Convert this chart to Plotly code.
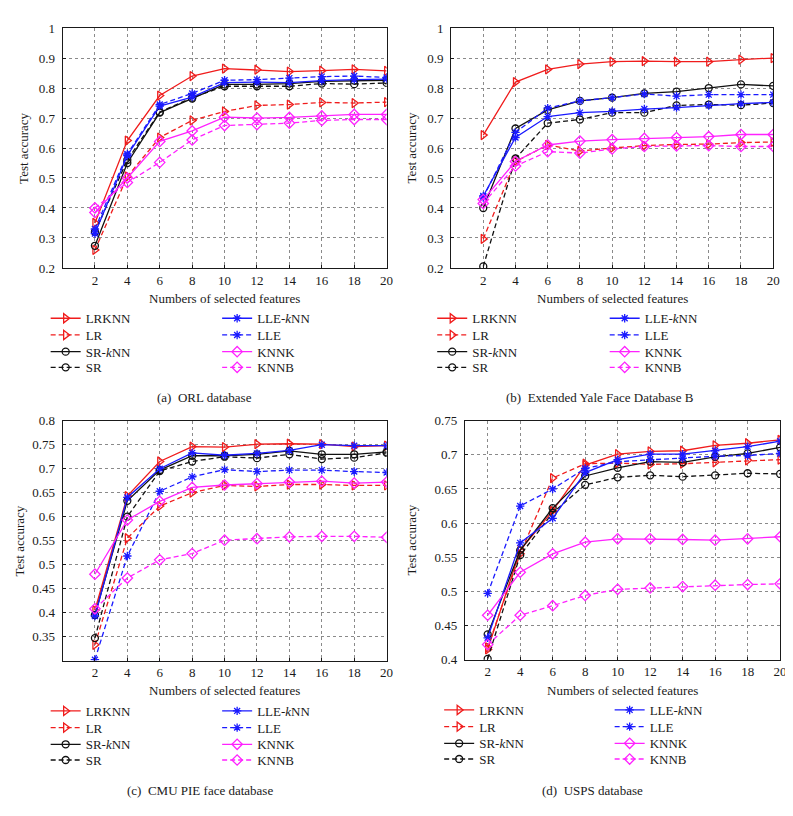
import plotly.graph_objects as go

# ---------------- data ----------------
features = [2, 4, 6, 8, 10, 12, 14, 16, 18, 20]
method_names = ["LRKNN", "LR", "SR-<i>k</i>NN", "SR", "LLE-<i>k</i>NN", "LLE", "KNNK", "KNNB"]

# (a) ORL database
orl_lrknn = [0.350, 0.625, 0.775, 0.840, 0.865, 0.861, 0.855, 0.858, 0.862, 0.857]
orl_lr    = [0.260, 0.505, 0.635, 0.692, 0.722, 0.742, 0.745, 0.752, 0.750, 0.753]
orl_srknn = [0.274, 0.550, 0.718, 0.765, 0.812, 0.812, 0.815, 0.822, 0.825, 0.826]
orl_sr    = [0.320, 0.560, 0.720, 0.768, 0.806, 0.806, 0.806, 0.815, 0.813, 0.817]
orl_lleknn = [0.315, 0.575, 0.740, 0.770, 0.818, 0.820, 0.818, 0.825, 0.828, 0.830]
orl_lle   = [0.330, 0.580, 0.745, 0.782, 0.826, 0.828, 0.833, 0.838, 0.840, 0.835]
orl_knnk  = [0.385, 0.500, 0.622, 0.657, 0.703, 0.700, 0.702, 0.707, 0.712, 0.712]
orl_knnb  = [0.400, 0.485, 0.552, 0.627, 0.675, 0.678, 0.683, 0.692, 0.695, 0.695]

# (b) Extended Yale Face Database B
yale_lrknn = [0.643, 0.820, 0.862, 0.880, 0.888, 0.890, 0.888, 0.888, 0.895, 0.900]
yale_lr    = [0.297, 0.555, 0.610, 0.590, 0.600, 0.608, 0.612, 0.613, 0.618, 0.620]
yale_srknn = [0.400, 0.665, 0.727, 0.757, 0.768, 0.782, 0.788, 0.800, 0.812, 0.807]
yale_sr    = [0.205, 0.565, 0.683, 0.695, 0.718, 0.718, 0.742, 0.745, 0.743, 0.750]
yale_lleknn = [0.440, 0.635, 0.705, 0.718, 0.722, 0.730, 0.735, 0.742, 0.748, 0.752]
yale_lle   = [0.435, 0.652, 0.733, 0.757, 0.768, 0.780, 0.773, 0.778, 0.778, 0.778]
yale_knnk  = [0.428, 0.555, 0.610, 0.623, 0.628, 0.632, 0.635, 0.638, 0.645, 0.645]
yale_knnb  = [0.415, 0.540, 0.588, 0.583, 0.597, 0.605, 0.607, 0.608, 0.605, 0.605]

# (c) CMU PIE face database
pie_lrknn = [0.405, 0.643, 0.715, 0.746, 0.745, 0.751, 0.752, 0.751, 0.746, 0.748]
pie_lr    = [0.333, 0.555, 0.622, 0.650, 0.665, 0.663, 0.667, 0.667, 0.665, 0.665]
pie_srknn = [0.395, 0.633, 0.697, 0.727, 0.727, 0.730, 0.737, 0.730, 0.730, 0.735]
pie_sr    = [0.347, 0.600, 0.695, 0.715, 0.725, 0.722, 0.730, 0.720, 0.723, 0.733]
pie_lleknn = [0.393, 0.640, 0.700, 0.733, 0.728, 0.732, 0.738, 0.750, 0.748, 0.748]
pie_lle   = [0.302, 0.518, 0.653, 0.683, 0.698, 0.694, 0.697, 0.697, 0.694, 0.692]
pie_knnk  = [0.480, 0.593, 0.632, 0.661, 0.666, 0.669, 0.672, 0.674, 0.670, 0.672]
pie_knnb  = [0.408, 0.472, 0.510, 0.523, 0.551, 0.554, 0.558, 0.559, 0.559, 0.557]

# (d) USPS database
usps_lrknn = [0.415, 0.560, 0.618, 0.685, 0.701, 0.705, 0.706, 0.714, 0.717, 0.722]
usps_lr    = [0.418, 0.555, 0.666, 0.687, 0.688, 0.686, 0.687, 0.689, 0.692, 0.693]
usps_srknn = [0.437, 0.560, 0.622, 0.669, 0.681, 0.690, 0.689, 0.697, 0.702, 0.711]
usps_sr    = [0.401, 0.553, 0.615, 0.656, 0.667, 0.670, 0.668, 0.670, 0.673, 0.672]
usps_lleknn = [0.432, 0.571, 0.607, 0.674, 0.693, 0.701, 0.701, 0.706, 0.712, 0.720]
usps_lle   = [0.497, 0.625, 0.650, 0.680, 0.690, 0.693, 0.695, 0.698, 0.699, 0.702]
usps_knnk  = [0.465, 0.528, 0.555, 0.572, 0.577, 0.577, 0.576, 0.575, 0.577, 0.580]
usps_knnb  = [0.422, 0.465, 0.479, 0.494, 0.503, 0.505, 0.507, 0.509, 0.510, 0.511]

captions = ["(a)\u00a0\u00a0ORL database", "(b)\u00a0\u00a0Extended Yale Face Database B",
            "(c)\u00a0\u00a0CMU PIE face database", "(d)\u00a0\u00a0USPS database"]

y_ticks_ab = [0.2, 0.3, 0.4, 0.5, 0.6, 0.7, 0.8, 0.9, 1.0]
y_ticktext_ab = ["0.2", "0.3", "0.4", "0.5", "0.6", "0.7", "0.8", "0.9", "1"]
y_ticks_c = [0.35, 0.4, 0.45, 0.5, 0.55, 0.6, 0.65, 0.7, 0.75, 0.8]
y_ticktext_c = ["0.35", "0.4", "0.45", "0.5", "0.55", "0.6", "0.65", "0.7", "0.75", "0.8"]
y_ticks_d = [0.4, 0.45, 0.5, 0.55, 0.6, 0.65, 0.7, 0.75]
y_ticktext_d = ["0.4", "0.45", "0.5", "0.55", "0.6", "0.65", "0.7", "0.75"]

panels_data = [
    [orl_lrknn, orl_lr, orl_srknn, orl_sr, orl_lleknn, orl_lle, orl_knnk, orl_knnb],
    [yale_lrknn, yale_lr, yale_srknn, yale_sr, yale_lleknn, yale_lle, yale_knnk, yale_knnb],
    [pie_lrknn, pie_lr, pie_srknn, pie_sr, pie_lleknn, pie_lle, pie_knnk, pie_knnb],
    [usps_lrknn, usps_lr, usps_srknn, usps_sr, usps_lleknn, usps_lle, usps_knnk, usps_knnb],
]

# ---------------- styling / layout ----------------
W, H = 793, 816
FONT = "Liberation Serif"
FS = 13
TXT = "#1a1a1a"
RED, BLACK, BLUE, MAG = "#f01c1c", "#111111", "#1a1aff", "#ff22ff"
DASH = "5px,3px"
styles = [
    dict(color=RED, dash="solid", symbol="triangle-right-open", size=8),
    dict(color=RED, dash=DASH, symbol="triangle-right-open", size=8),
    dict(color=BLACK, dash="solid", symbol="circle-open", size=7),
    dict(color=BLACK, dash=DASH, symbol="circle-open", size=7),
    dict(color=BLUE, dash="solid", symbol="asterisk-open", size=7),
    dict(color=BLUE, dash=DASH, symbol="asterisk-open", size=7),
    dict(color=MAG, dash="solid", symbol="diamond-open", size=8),
    dict(color=MAG, dash=DASH, symbol="diamond-open", size=8),
]

# pixel boxes for each panel: (left, right, top, bottom)
boxes = [(55, 382, 13.3, 257.7), (447, 772, 13.3, 257.7),
         (55, 382, 413.3, 657.7), (461, 779, 413.3, 656.7)]
x_ranges = [[0, 20], [0, 20], [0, 20], [0.6, 20]]
y_ranges = [[0.2, 1.0], [0.2, 1.0], [0.3, 0.8], [0.4, 0.75]]
y_tickvals = [y_ticks_ab, y_ticks_ab, y_ticks_c, y_ticks_d]
y_ticktexts = [y_ticktext_ab, y_ticktext_ab, y_ticktext_c, y_ticktext_d]
ytitle_x = [15, 407, 12, 407]
xtitle_y = [289, 289, 688, 688]
caption_pos = [(198, 390), (597, 390), (194, 790), (590, 790)]
legend_text_x = [(83, 256), (473, 647), (83, 256), (480, 652)]
legend_rows_y = [(318, 335, 352, 368), (318, 335, 352, 368),
                 (718, 735, 752, 768), (717, 734, 751, 767)]

fig = go.Figure()
layout = dict(width=W, height=H, margin=dict(l=0, r=0, t=0, b=0),
              paper_bgcolor="white", plot_bgcolor="white", showlegend=True,
              font=dict(family=FONT, size=FS, color=TXT), annotations=[])

for p in range(4):
    l, r, t, b = boxes[p]
    ax = "" if p == 0 else str(p + 1)
    layout["xaxis" + ax] = dict(
        domain=[l / W, r / W], range=x_ranges[p], anchor="y" + ax,
        tickvals=features, ticks="inside", ticklen=3, tickcolor=TXT,
        showgrid=True, gridcolor="#8a8a8a", griddash="dot", gridwidth=1,
        showline=True, linecolor=TXT, linewidth=1, mirror=True,
        zeroline=False, tickfont=dict(family=FONT, size=FS, color=TXT))
    layout["yaxis" + ax] = dict(
        domain=[1 - b / H, 1 - t / H], range=y_ranges[p], anchor="x" + ax,
        tickvals=y_tickvals[p], ticktext=y_ticktexts[p], ticks="inside", ticklen=3,
        tickcolor=TXT, showgrid=True, gridcolor="#8a8a8a", griddash="dot", gridwidth=1,
        showline=True, linecolor=TXT, linewidth=1, mirror=True, zeroline=False,
        ticklabelstandoff=4, tickfont=dict(family=FONT, size=FS, color=TXT))

    for m in range(8):
        st = styles[m]
        idx = p * 8 + m + 1
        lg = "legend" if idx == 1 else f"legend{idx}"
        fig.add_trace(go.Scatter(
            x=features, y=panels_data[p][m], name=method_names[m],
            mode="lines+markers", xaxis="x" + ax, yaxis="y" + ax, legend=lg,
            showlegend=True,
            line=dict(color=st["color"], dash=st["dash"], width=1.3),
            marker=dict(symbol=st["symbol"], size=st["size"], color=st["color"],
                        line=dict(color=st["color"], width=1.3))))
        col, row = m // 4, m % 4
        tx = legend_text_x[p][col]
        ty = legend_rows_y[p][row] - 9
        layout[lg] = dict(x=(tx - 45) / W, y=1 - ty / H, xanchor="left", yanchor="middle",
                          bgcolor="rgba(0,0,0,0)", borderwidth=0, itemwidth=30,
                          font=dict(family=FONT, size=FS, color=TXT))

    layout["annotations"].append(dict(
        text="Test accuracy", x=ytitle_x[p] / W, y=1 - ((t + b) / 2) / H,
        xref="paper", yref="paper", textangle=-90, showarrow=False,
        xanchor="center", yanchor="middle", font=dict(family=FONT, size=FS, color=TXT)))
    layout["annotations"].append(dict(
        text="Numbers of selected features", x=((l + r) / 2) / W, y=1 - xtitle_y[p] / H,
        xref="paper", yref="paper", showarrow=False, xanchor="center", yanchor="middle",
        font=dict(family=FONT, size=FS, color=TXT)))
    cx, cy = caption_pos[p]
    layout["annotations"].append(dict(
        text=captions[p], x=cx / W, y=1 - cy / H, xref="paper", yref="paper",
        showarrow=False, xanchor="center", yanchor="middle",
        font=dict(family=FONT, size=FS, color=TXT)))

fig.update_layout(**layout)
fig.write_html("out.html")
